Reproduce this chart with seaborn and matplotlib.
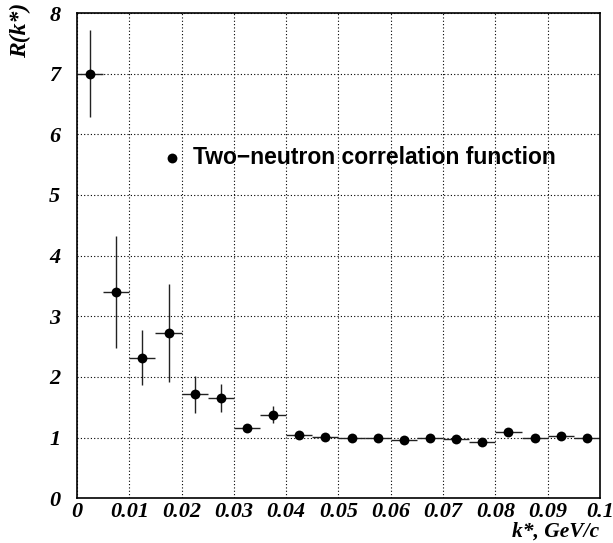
import numpy as np
import pandas as pd
import seaborn as sns
import matplotlib.pyplot as plt
from matplotlib.ticker import MultipleLocator, FixedFormatter, FixedLocator

# bin centres of k*, GeV/c
kstar = [0.0025, 0.0075, 0.0125, 0.0175, 0.0225, 0.0275, 0.0325, 0.0375, 0.0425, 0.0475,
         0.0525, 0.0575, 0.0625, 0.0675, 0.0725, 0.0775, 0.0825, 0.0875, 0.0925, 0.0975]
half_width = [0.0025] * 20
r_val = [7.00, 3.40, 2.32, 2.73, 1.71, 1.65, 1.15, 1.38, 1.05, 1.01,
         1.00, 1.00, 0.96, 1.00, 0.98, 0.93, 1.09, 0.99, 1.03, 1.00]
r_err = [0.72, 0.93, 0.46, 0.81, 0.30, 0.23, 0.05, 0.14, 0.04, 0.03,
         0.03, 0.03, 0.03, 0.03, 0.03, 0.03, 0.04, 0.03, 0.03, 0.03]

x_ticks = [0, 0.01, 0.02, 0.03, 0.04, 0.05, 0.06, 0.07, 0.08, 0.09, 0.1]
x_labels = ["0", "0.01", "0.02", "0.03", "0.04", "0.05", "0.06", "0.07", "0.08", "0.09", "0.1"]
y_ticks = [0, 1, 2, 3, 4, 5, 6, 7, 8]

df = pd.DataFrame({"k": kstar, "R": r_val, "dk": half_width, "dR": r_err})

sns.set_style("white")
plt.rcParams["font.family"] = ["Liberation Serif", "DejaVu Serif"]
plt.rcParams["text.color"] = "black"

fig = plt.figure(figsize=(6.13, 5.43), dpi=100)
ax = fig.add_axes([0.1256, 0.0825, 0.8532, 0.8935])

ax.errorbar(df["k"], df["R"], xerr=df["dk"], yerr=df["dR"], fmt="none",
            ecolor="#222222", elinewidth=1.0, capsize=0, zorder=2)
sns.scatterplot(data=df, x="k", y="R", ax=ax, color="black", s=50,
                edgecolor="black", linewidth=0, zorder=3)

ax.set_xlim(0, 0.1)
ax.set_ylim(0, 8)
ax.xaxis.set_major_locator(FixedLocator(x_ticks))
ax.xaxis.set_major_formatter(FixedFormatter(x_labels))
ax.xaxis.set_minor_locator(MultipleLocator(0.002))
ax.yaxis.set_major_locator(FixedLocator(y_ticks))
ax.yaxis.set_minor_locator(MultipleLocator(0.2))

ax.tick_params(which="both", direction="in", top=False, right=False, color="black",
               labelcolor="black")
ax.tick_params(which="major", length=9, width=1)
ax.tick_params(which="minor", length=5, width=1)
ax.tick_params(axis="x", pad=3)
ax.tick_params(axis="y", pad=12)
for lab in ax.get_xticklabels() + ax.get_yticklabels():
    lab.set_fontsize(16)
    lab.set_fontweight("bold")
    lab.set_fontstyle("italic")

ax.grid(True, which="major", linestyle=(0, (1, 2)), color="black", linewidth=0.8)
for sp in ax.spines.values():
    sp.set_color("black")
    sp.set_linewidth(1.2)

ax.set_xlabel("")
ax.set_ylabel("")
fig.text(0.978, 0.002, "k*, GeV/c", ha="right", va="bottom", fontsize=15.5,
         fontweight="bold", fontstyle="italic", color="black")
fig.text(0.033, 0.995, "R(k*)", ha="center", va="top", rotation=90, fontsize=17,
         fontweight="bold", fontstyle="italic", color="black")

# legend-like label inside the frame
ax.scatter([0.0182], [5.61], color="black", s=50, linewidth=0, zorder=3)
ax.text(0.0222, 5.61, "Two\u2212neutron correlation function", va="center", ha="left",
        fontsize=16.5, fontweight="bold", color="black",
        family=["Liberation Sans", "DejaVu Sans"])

fig.savefig("out.png", dpi=100, facecolor="white")
